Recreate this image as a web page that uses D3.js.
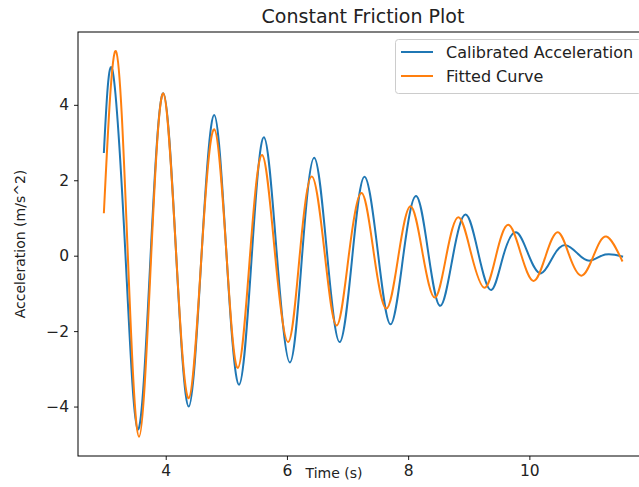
<!DOCTYPE html>
<html>
<head>
<meta charset="utf-8">
<script src="https://cdn.jsdelivr.net/npm/d3@7"></script>
<style>
  html, body { margin: 0; padding: 0; background: #fff; }
  svg { display: block; font-family: "DejaVu Sans", sans-serif; }
</style>
</head>
<body>
<svg id="chart" width="639" height="487"></svg>
<script>
// ---- data ----
const chartTitle = "Constant Friction Plot";
const xLabel = "Time (s)";
const yLabel = "Acceleration (m/s^2)";
const seriesNames = ["Calibrated Acceleration", "Fitted Curve"];
const xTicks = [4, 6, 8, 10];
const yTicks = [-4, -2, 0, 2, 4];

// Calibrated acceleration: extrema and zero crossings
const calibTime = [2.98, 3.12, 3.33, 3.54, 3.75, 3.96, 4.17, 4.38, 4.59, 4.80, 5.00, 5.21, 5.42, 5.62, 5.83, 6.05, 6.25, 6.45, 6.66, 6.87, 7.08, 7.28, 7.50, 7.71, 7.92, 8.13, 8.33, 8.53, 8.74, 8.95, 9.16, 9.37, 9.57, 9.78, 9.98, 10.19, 10.40, 10.60, 10.80, 11.00, 11.25, 11.53];
const calibAccel = [2.75, 4.93, 0.2, -4.61, 0.0, 4.31, 0.1, -4.0, 0.0, 3.73, 0.1, -3.42, 0.0, 3.14, 0.1, -2.83, 0.0, 2.60, 0.1, -2.29, 0.0, 2.09, 0.1, -1.82, 0.0, 1.58, 0.1, -1.33, 0.0, 1.09, 0.05, -0.91, 0.0, 0.62, 0.05, -0.47, 0.0, 0.28, 0.05, -0.13, 0.03, -0.02];

// Fitted curve: extrema and zero crossings
const fitTime = [2.98, 3.18, 3.37, 3.56, 3.76, 3.96, 4.17, 4.38, 4.59, 4.80, 5.00, 5.19, 5.39, 5.59, 5.80, 6.02, 6.21, 6.41, 6.62, 6.82, 7.02, 7.23, 7.43, 7.64, 7.84, 8.04, 8.24, 8.44, 8.63, 8.83, 9.04, 9.26, 9.45, 9.65, 9.86, 10.07, 10.27, 10.47, 10.66, 10.86, 11.06, 11.27, 11.53];
const fitAccel = [1.15, 5.42, 0.2, -4.80, 0.0, 4.30, 0.1, -3.78, 0.0, 3.35, 0.1, -2.98, 0.0, 2.67, 0.1, -2.29, 0.0, 2.10, 0.1, -1.85, 0.0, 1.66, 0.1, -1.40, 0.0, 1.31, 0.05, -1.11, 0.0, 1.02, 0.05, -0.85, 0.0, 0.82, 0.05, -0.67, 0.0, 0.62, 0.0, -0.53, 0.0, 0.51, -0.13];

const colors = ["#1f77b4", "#ff7f0e"];

// ---- layout ----
const svg = d3.select("#chart");
const plot = { left: 78, top: 32, right: 648, bottom: 456 };

const calib = calibTime.map((t, i) => ({ t, v: calibAccel[i] }));
const fit = fitTime.map((t, i) => ({ t, v: fitAccel[i] }));
const all = calib.concat(fit);

const tExt = d3.extent(all, d => d.t);
const vExt = d3.extent(all, d => d.v);
const tPad = (tExt[1] - tExt[0]) * 0.05;
const vPad = (vExt[1] - vExt[0]) * 0.05;

const x = d3.scaleLinear().domain([tExt[0] - tPad, tExt[1] + tPad]).range([plot.left, plot.right]);
const y = d3.scaleLinear().domain([vExt[0] - vPad, vExt[1] + vPad]).range([plot.bottom, plot.top]);

// clip
svg.append("defs").append("clipPath").attr("id", "clip")
  .append("rect").attr("x", plot.left).attr("y", plot.top)
  .attr("width", plot.right - plot.left).attr("height", plot.bottom - plot.top);

// lines
const line = d3.line().x(d => x(d.t)).y(d => y(d.v)).curve(d3.curveNatural);
const g = svg.append("g").attr("clip-path", "url(#clip)");
[calib, fit].forEach((s, i) => {
  g.append("path").datum(s)
    .attr("d", line)
    .attr("fill", "none")
    .attr("stroke", colors[i])
    .attr("stroke-width", 2)
    .attr("stroke-linejoin", "round")
    .attr("stroke-linecap", "square");
});

// axes
const fmt = d => (d < 0 ? "\u2212" + Math.abs(d) : String(d));
const xAxis = svg.append("g").attr("transform", `translate(0,${plot.bottom})`)
  .call(d3.axisBottom(x).tickValues(xTicks).tickFormat(fmt).tickSize(4).tickPadding(5));
const yAxis = svg.append("g").attr("transform", `translate(${plot.left},0)`)
  .call(d3.axisLeft(y).tickValues(yTicks).tickFormat(fmt).tickSize(4).tickPadding(5));
[xAxis, yAxis].forEach(a => {
  a.select(".domain").remove();
  a.selectAll(".tick line").attr("stroke", "#000").attr("stroke-width", 0.9);
  a.selectAll(".tick text").attr("fill", "#222")
    .style("font-family", "'DejaVu Sans', sans-serif").style("font-size", "15.5px");
});

// spines (frame)
svg.append("rect")
  .attr("x", plot.left).attr("y", plot.top)
  .attr("width", plot.right - plot.left).attr("height", plot.bottom - plot.top)
  .attr("fill", "none").attr("stroke", "#000").attr("stroke-width", 1);

// title
svg.append("text")
  .attr("x", (plot.left + plot.right) / 2).attr("y", 23)
  .attr("text-anchor", "middle")
  .style("font-size", "19px").attr("fill", "#222")
  .text(chartTitle);

// x label (placed inline with tick labels, as in the reference)
svg.append("text")
  .attr("x", 334).attr("y", 478)
  .attr("text-anchor", "middle")
  .style("font-size", "14px").attr("fill", "#222")
  .text(xLabel);

// y label
svg.append("text")
  .attr("transform", `translate(25,${(plot.top + plot.bottom) / 2}) rotate(-90)`)
  .attr("text-anchor", "middle")
  .style("font-size", "14px").attr("fill", "#222")
  .text(yLabel);

// legend
const lg = svg.append("g");
lg.append("rect")
  .attr("x", 395.5).attr("y", 39.5).attr("width", 246).attr("height", 54)
  .attr("rx", 3).attr("fill", "#fff").attr("fill-opacity", 0.8)
  .attr("stroke", "#ccc").attr("stroke-width", 1);
seriesNames.forEach((name, i) => {
  const cy = 52 + i * 24;
  lg.append("line").attr("x1", 401).attr("x2", 433).attr("y1", cy).attr("y2", cy)
    .attr("stroke", colors[i]).attr("stroke-width", 2);
  lg.append("text").attr("x", 446).attr("y", cy + 5.5)
    .style("font-size", "16px").attr("fill", "#222").text(name);
});
</script>
</body>
</html>
